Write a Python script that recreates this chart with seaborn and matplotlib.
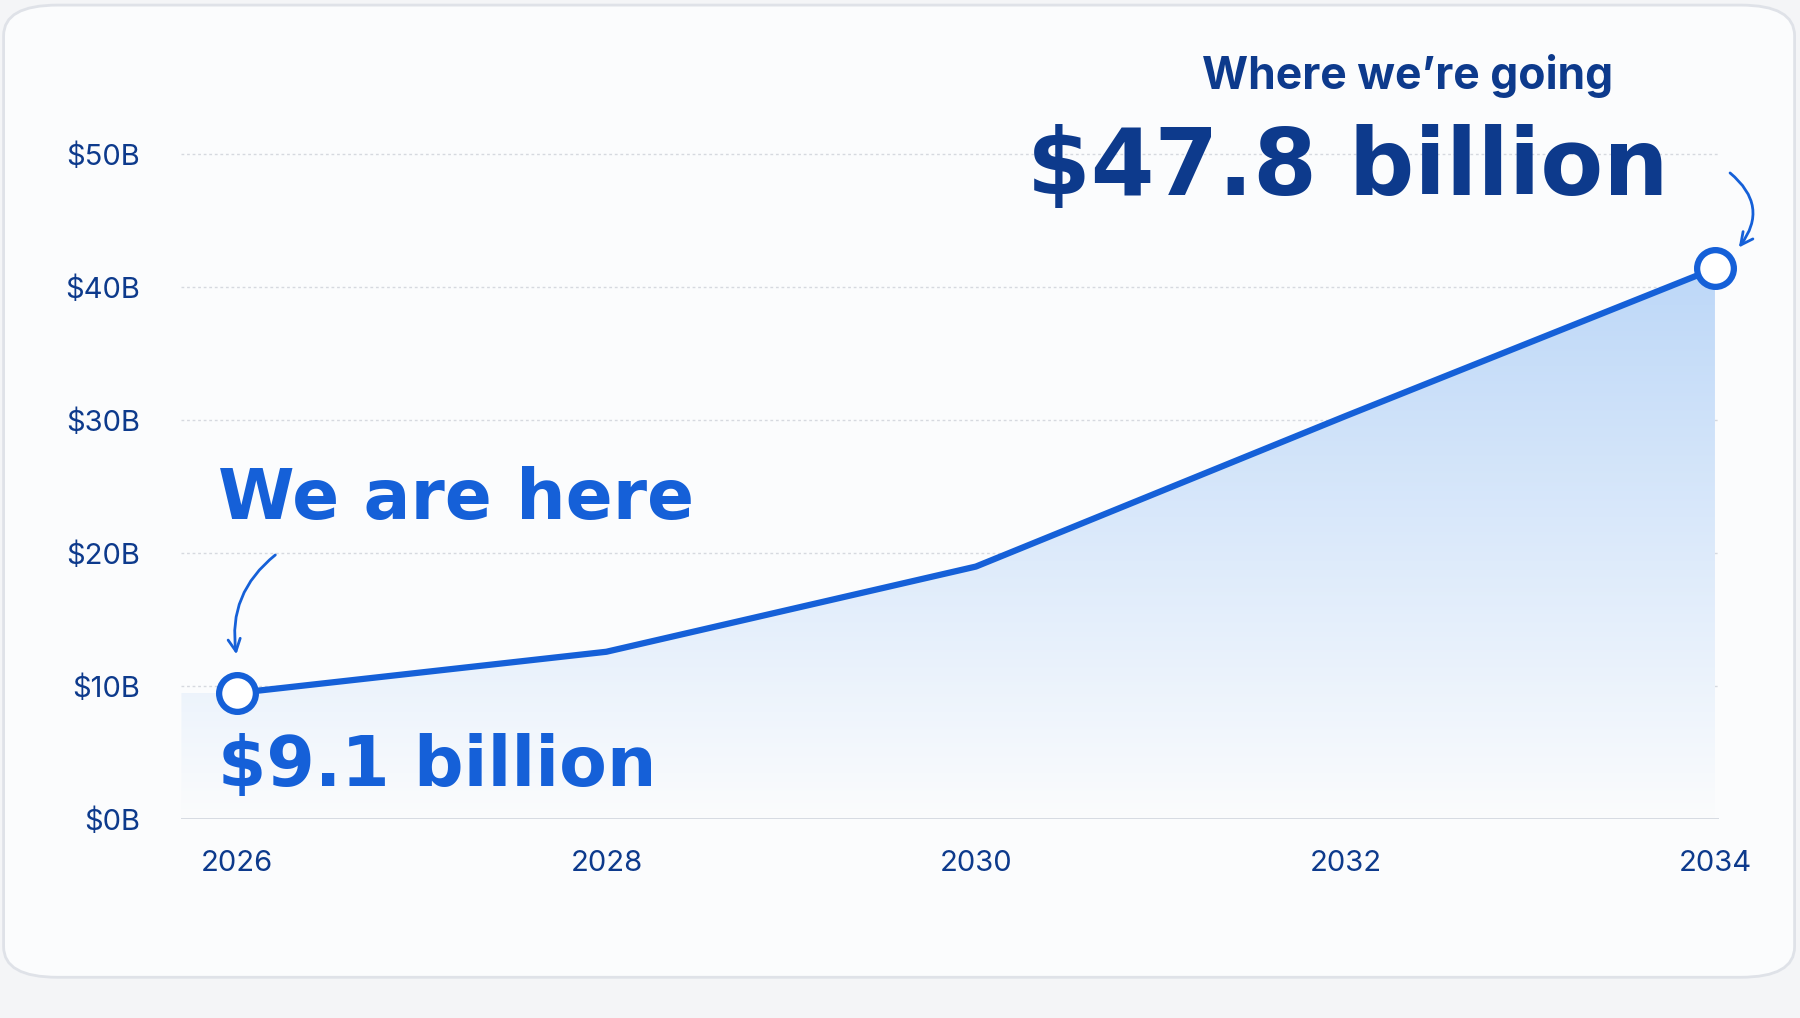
import numpy as np
import matplotlib
matplotlib.use("Agg")
import matplotlib.pyplot as plt
import seaborn as sns
from matplotlib.patches import FancyBboxPatch, Polygon
import pandas as pd

years = [2026, 2028, 2030, 2032, 2034]
values = [9.5, 12.6, 19.0, 30.3, 41.4]
yticks = [0, 10, 20, 30, 40, 50]
ytick_labels = ["$0B", "$10B", "$20B", "$30B", "$40B", "$50B"]
start_label = "$9.1 billion"
end_label = "$47.8 billion"

sns.set_theme(style="white")
plt.rcParams['font.family'] = ['Inter', 'DejaVu Sans']
navy = "#0d3a8c"
blue = "#1560d8"

fig = plt.figure(figsize=(18, 10.18), dpi=100)
fig.patch.set_facecolor("#f4f5f7")
bg = fig.add_axes([0, 0, 1, 1], zorder=0)
bg.set_xlim(0, 1); bg.set_ylim(0, 1); bg.axis("off")
card = FancyBboxPatch((0.002, 0.04), 0.995, 0.955, boxstyle="round,pad=0,rounding_size=0.03",
                      transform=bg.transAxes, facecolor="#fbfcfd", edgecolor="#dfe2e8", lw=2)
bg.add_patch(card)

ax = fig.add_axes([0.1008, 0.195, 0.854, 0.68], zorder=1)
ax.set_facecolor("none")
df = pd.DataFrame({"year": years, "value": values})
xs = [2025.7] + years
ys = [values[0]] + values
poly = Polygon(list(zip(xs, ys)) + [(2034, 0), (2025.7, 0)], closed=True, facecolor="none", edgecolor="none")
ax.add_patch(poly)
grad = np.linspace(0, 1, 256).reshape(-1, 1)
cmap = matplotlib.colors.LinearSegmentedColormap.from_list("g", ["#fbfcfd", "#bcd7f8"])
im = ax.imshow(grad, extent=[2025.7, 2034, 0, 42], origin="lower", aspect="auto", cmap=cmap, zorder=1)
im.set_clip_path(poly)
sns.lineplot(data=df, x="year", y="value", ax=ax, color=blue, lw=4.5, zorder=3)
ax.scatter([years[0], years[-1]], [values[0], values[-1]], s=700, facecolor="white", edgecolor=blue, lw=4.5, zorder=5, clip_on=False)

ax.set_xlim(2025.7, 2034.02)
ax.set_ylim(0, 52)
ax.set_yticks(yticks)
ax.set_yticklabels(ytick_labels)
ax.set_xticks(years)
ax.set_xticklabels([str(y) for y in years])
for y in yticks[1:]:
    ax.axhline(y, color="#d6d9df", lw=1, ls=(0, (2, 2)), zorder=0)
ax.axhline(0, color="#d0d5dd", lw=1.2)
for s in ax.spines.values():
    s.set_visible(False)
ax.tick_params(axis="y", labelsize=21, colors=navy, pad=30, length=0)
ax.tick_params(axis="x", labelsize=21, colors=navy, pad=22, length=0)
ax.set_xlabel(""); ax.set_ylabel("")

narrow = ['Liberation Sans Narrow', 'DejaVu Sans']
ax.text(2025.9, 1.5, start_label, fontsize=50, fontweight="bold", color=blue, family=narrow, va="bottom")
ax.text(2025.9, 21.5, "We are here", fontsize=50, fontweight="bold", color=blue, family=narrow, va="bottom")
ax.text(2033.75, 45.5, end_label, fontsize=66, fontweight="bold", color=navy, family=narrow, va="bottom", ha="right")
ax.text(2033.45, 54.2, "Where we\u2019re going", fontsize=32, fontweight="bold", color=navy, va="bottom", ha="right")
ax.annotate("", xy=(2026.0, 12.2), xytext=(2026.22, 20.0),
            arrowprops=dict(arrowstyle="->", color=blue, lw=2, connectionstyle="arc3,rad=0.3", mutation_scale=22), annotation_clip=False)
ax.annotate("", xy=(2034.12, 42.8), xytext=(2034.07, 48.7),
            arrowprops=dict(arrowstyle="->", color=blue, lw=2, connectionstyle="arc3,rad=-0.5", mutation_scale=22), annotation_clip=False)

fig.savefig("out.png", dpi=100, facecolor=fig.get_facecolor())
